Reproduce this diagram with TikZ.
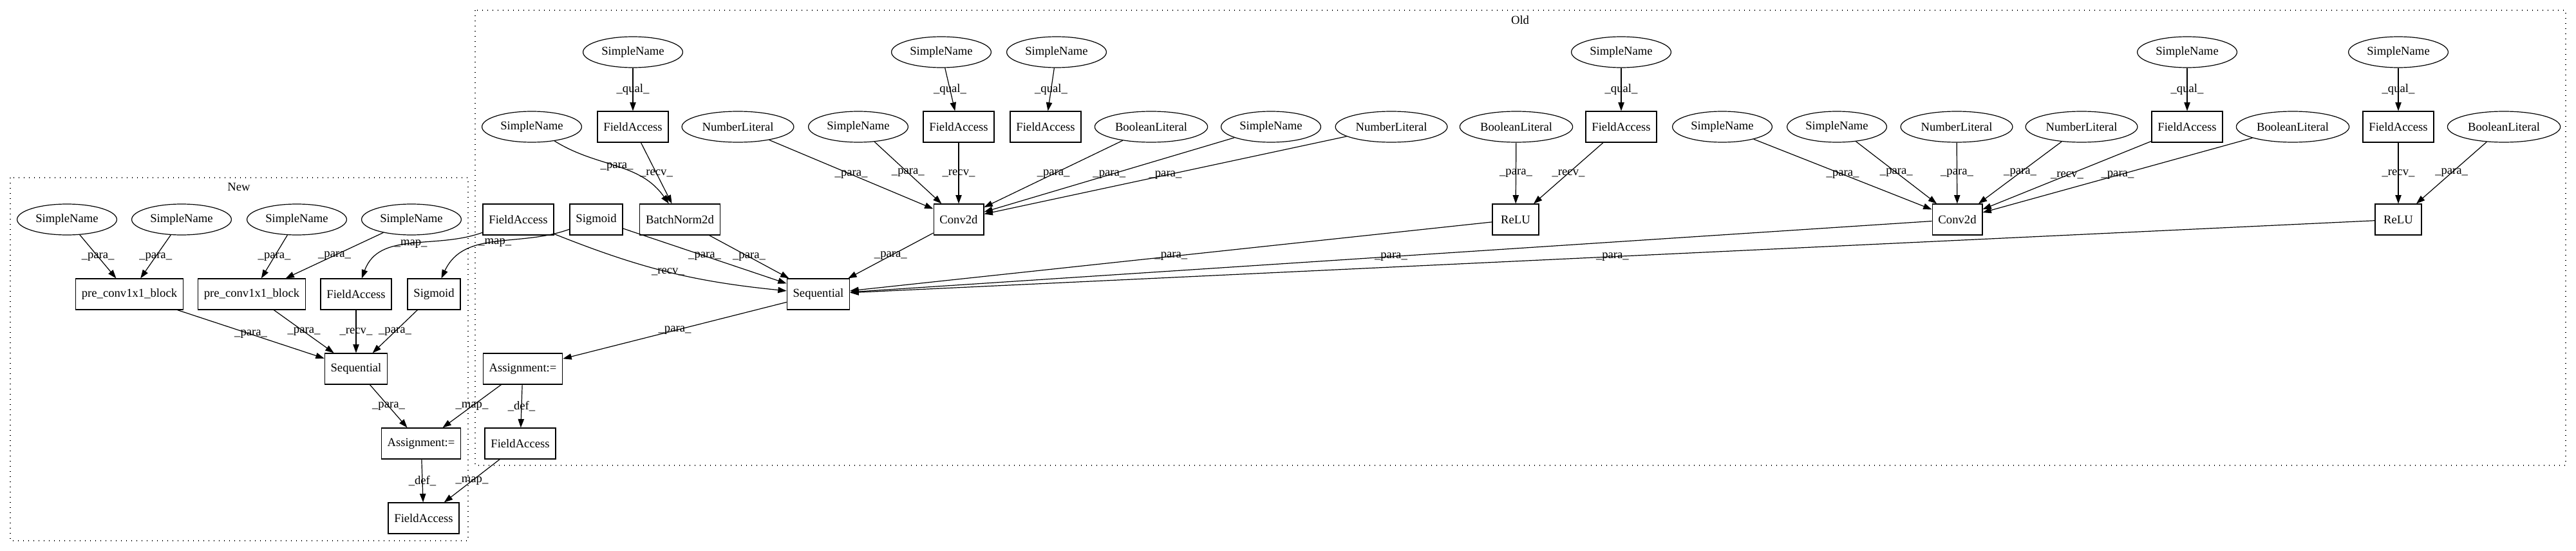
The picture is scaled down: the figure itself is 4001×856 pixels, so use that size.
\documentclass[tikz,border=0pt]{standalone}
\usepackage{fontspec}
\setmainfont{Liberation Serif}
\usetikzlibrary{arrows.meta}
\usetikzlibrary{shapes.geometric}
\tikzset{
    every edge/.append style={
        draw,
        -{Triangle[length=10pt,width=7pt]},
        line width=0.9pt
    },
    ast box/.style={
        draw, rectangle, line width=0.9pt,
        minimum width=54pt, minimum height=36pt,
        inner xsep=7pt, font=\fontsize{14}{16}\selectfont
    },
    ast oval/.style={
        draw, ellipse, line width=0.9pt,
        minimum width=54pt, minimum height=36pt,
        inner xsep=4.5pt, inner ysep=0pt, font=\fontsize{14}{16}\selectfont
    },
    cluster/.style={
        draw, line width=1pt,
        dash pattern=on 1pt off 5pt
    }
}
\begin{document}
\begin{tikzpicture}[x=0.75pt, y=-0.75pt, edge label/.style={font=\fontsize{14}{16}\selectfont, inner sep=0pt}]
                    \useasboundingbox (0,0) rectangle (4001,856);
                    \draw[cluster] (16,276) rectangle (727,840);
                    \node[edge label] (lnew) at (371,290) {New};
                    \draw[cluster] (738,16) rectangle (3985,723);
                    \node[edge label] (lold) at (2361,31) {Old};

                    % New
                    \node[ast oval] (nsn1) at (104,341) {SimpleName};
                    \node[ast oval] (nsn2) at (282,341) {SimpleName};
                    \node[ast oval] (nsn3) at (461,341) {SimpleName};
                    \node[ast oval] (nsn4) at (639,341) {SimpleName};
                    \node[ast box] (npcb1) at (201,457) {pre\_conv1x1\_block};
                    \node[ast box] (npcb2) at (391,457) {pre\_conv1x1\_block};
                    \node[ast box] (nfa) at (553,457) {FieldAccess};
                    \node[ast box] (nsig) at (674,457) {Sigmoid};
                    \node[ast box] (nseq) at (553,573) {Sequential};
                    \node[ast box] (nasg) at (654,689) {Assignment:=};
                    \node[ast box] (nfab) at (658,805) {FieldAccess};

                    % Old
                    \node[ast oval] (osn1) at (983,81) {SimpleName};
                    \node[ast oval] (osn2) at (1462,81) {SimpleName};
                    \node[ast oval] (osn3) at (1641,81) {SimpleName};
                    \node[ast oval] (osn4) at (2518,81) {SimpleName};
                    \node[ast oval] (osn5) at (3397,81) {SimpleName};
                    \node[ast oval] (osn6) at (3725,81) {SimpleName};
                    \node[ast oval] (osn7) at (826,197) {SimpleName};
                    \node[ast box] (ofa1) at (983,197) {FieldAccess};
                    \node[ast oval] (onl1) at (1146,197) {NumberLiteral};
                    \node[ast oval] (osn8) at (1333,197) {SimpleName};
                    \node[ast box] (ofa2) at (1489,197) {FieldAccess};
                    \node[ast box] (ofa3) at (1624,197) {FieldAccess};
                    \node[ast oval] (obl1) at (1788,197) {BooleanLiteral};
                    \node[ast oval] (osn9) at (1974,197) {SimpleName};
                    \node[ast oval] (onl2) at (2161,197) {NumberLiteral};
                    \node[ast oval] (obl2) at (2355,197) {BooleanLiteral};
                    \node[ast box] (ofa4) at (2518,197) {FieldAccess};
                    \node[ast oval] (osn10) at (2675,197) {SimpleName};
                    \node[ast oval] (osn11) at (2853,197) {SimpleName};
                    \node[ast oval] (onl3) at (3039,197) {NumberLiteral};
                    \node[ast oval] (onl4) at (3233,197) {NumberLiteral};
                    \node[ast box] (ofa5) at (3397,197) {FieldAccess};
                    \node[ast oval] (obl3) at (3561,197) {BooleanLiteral};
                    \node[ast box] (ofa6) at (3725,197) {FieldAccess};
                    \node[ast oval] (obl4) at (3889,197) {BooleanLiteral};
                    \node[ast box] (ofa0) at (805,341) {FieldAccess};
                    \node[ast box] (osig) at (926,341) {Sigmoid};
                    \node[ast box] (obn) at (1056,341) {BatchNorm2d};
                    \node[ast box] (oconv1) at (1489,341) {Conv2d};
                    \node[ast box] (orelu1) at (2354,341) {ReLU};
                    \node[ast box] (oconv2) at (3040,341) {Conv2d};
                    \node[ast box] (orelu2) at (3725,341) {ReLU};
                    \node[ast box] (oseq) at (1271,457) {Sequential};
                    \node[ast box] (oasg) at (812,573) {Assignment:=};
                    \node[ast box] (ofab) at (808,689) {FieldAccess};

                    % New edges
                    \draw (nsn1) edge node[edge label, at={(181,400)}] {\_para\_} (npcb1);
                    \draw (nsn2) edge node[edge label, at={(270,400)}] {\_para\_} (npcb1);
                    \draw (nsn3) edge node[edge label, at={(453,400)}] {\_para\_} (npcb2);
                    \draw (nsn4) edge node[edge label, at={(554,400)}] {\_para\_} (npcb2);
                    \draw (npcb1) edge node[edge label, at={(431,515)}] {\_para\_} (nseq);
                    \draw (npcb2) edge node[edge label, at={(508,515)}] {\_para\_} (nseq);
                    \draw (nfa) edge node[edge label, at={(577,515)}] {\_recv\_} (nseq);
                    \draw (nsig) edge node[edge label, at={(653,515)}] {\_para\_} (nseq);
                    \draw (nseq) edge node[edge label, at={(635,632)}] {\_para\_} (nasg);
                    \draw (nasg) edge node[edge label, at={(676,747)}] {\_def\_} (nfab);

                    % Old edges
                    \draw (osn1) edge node[edge label, at={(1006,139)}] {\_qual\_} (ofa1);
                    \draw (osn2) edge node[edge label, at={(1502,139)}] {\_qual\_} (ofa2);
                    \draw (osn3) edge node[edge label, at={(1657,139)}] {\_qual\_} (ofa3);
                    \draw (osn4) edge node[edge label, at={(2543,139)}] {\_qual\_} (ofa4);
                    \draw (osn5) edge node[edge label, at={(3422,139)}] {\_qual\_} (ofa5);
                    \draw (osn6) edge node[edge label, at={(3749,139)}] {\_qual\_} (ofa6);
                    \draw (osn7) edge[out=-32, in=125] node[edge label, at={(978,256)}] {\_para\_} (obn);
                    \draw (ofa1) edge node[edge label, at={(1039,256)}] {\_recv\_} (obn);
                    \draw (onl1) edge node[edge label, at={(1332,256)}] {\_para\_} (oconv1);
                    \draw (osn8) edge node[edge label, at={(1430,256)}] {\_para\_} (oconv1);
                    \draw (ofa2) edge node[edge label, at={(1514,256)}] {\_recv\_} (oconv1);
                    \draw (obl1) edge node[edge label, at={(1708,256)}] {\_para\_} (oconv1);
                    \draw (osn9) edge node[edge label, at={(1827,256)}] {\_para\_} (oconv1);
                    \draw (onl2) edge node[edge label, at={(1961,256)}] {\_para\_} (oconv1);
                    \draw (obl2) edge node[edge label, at={(2376,256)}] {\_para\_} (orelu1);
                    \draw (ofa4) edge node[edge label, at={(2485,256)}] {\_recv\_} (orelu1);
                    \draw (osn10) edge node[edge label, at={(2870,256)}] {\_para\_} (oconv2);
                    \draw (osn11) edge node[edge label, at={(2964,256)}] {\_para\_} (oconv2);
                    \draw (onl3) edge node[edge label, at={(3065,256)}] {\_para\_} (oconv2);
                    \draw (onl4) edge node[edge label, at={(3189,256)}] {\_para\_} (oconv2);
                    \draw (ofa5) edge node[edge label, at={(3296,256)}] {\_recv\_} (oconv2);
                    \draw (obl3) edge node[edge label, at={(3421,256)}] {\_para\_} (oconv2);
                    \draw (ofa6) edge node[edge label, at={(3749,256)}] {\_recv\_} (orelu2);
                    \draw (obl4) edge node[edge label, at={(3856,256)}] {\_para\_} (orelu2);
                    \draw (ofa0) edge[bend right=8] node[edge label, at={(1010,399)}] {\_recv\_} (oseq)
                        edge[out=200, in=70] node[edge label, at={(653,400)}] {\_map\_} (nfa);
                    \draw (osig) edge node[edge label, at={(1121,399)}] {\_para\_} (oseq)
                        edge[out=200, in=65] node[edge label, at={(769,400)}] {\_map\_} (nsig);
                    \draw (obn) edge node[edge label, at={(1203,399)}] {\_para\_} (oseq);
                    \draw (oconv1) edge node[edge label, at={(1417,399)}] {\_para\_} (oseq);
                    \draw (orelu1) edge node[edge label, at={(1900,400)}] {\_para\_} (oseq);
                    \draw (oconv2) edge node[edge label, at={(2283,400)}] {\_para\_} (oseq);
                    \draw (orelu2) edge node[edge label, at={(2765,400)}] {\_para\_} (oseq);
                    \draw (oseq) edge node[edge label, at={(1093,516)}] {\_para\_} (oasg);
                    \draw (oasg) edge node[edge label, at={(830,631)}] {\_def\_} (ofab)
                        edge node[edge label, at={(768,632)}] {\_map\_} (nasg);
                    \draw (ofab) edge node[edge label, at={(765,747)}] {\_map\_} (nfab);
                \end{tikzpicture}
\end{document}
